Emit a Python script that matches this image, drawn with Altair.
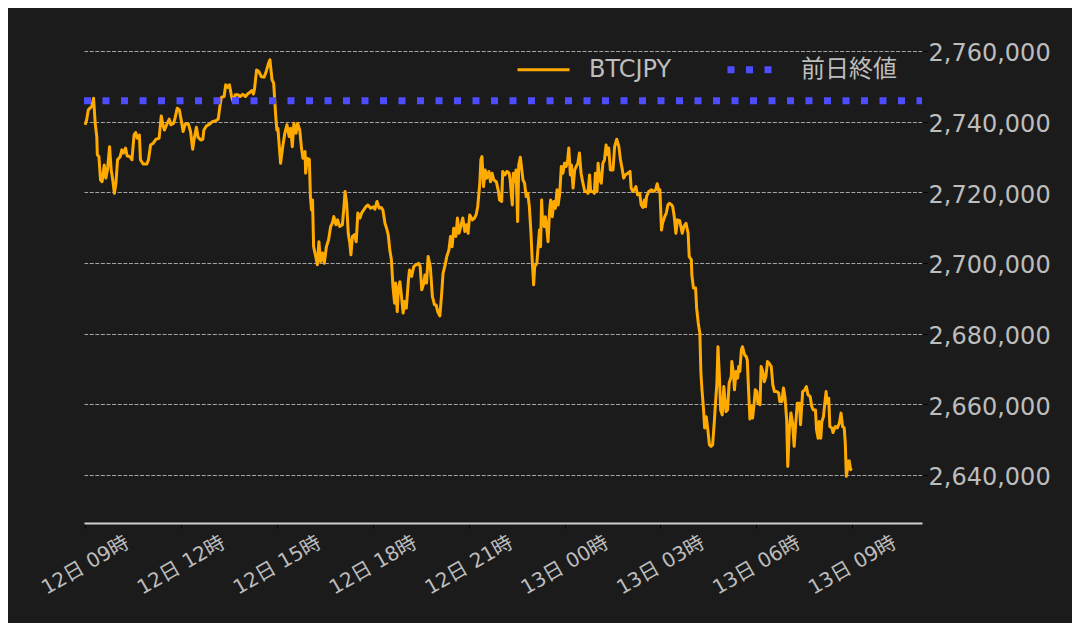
import altair as alt
import pandas as pd

# ---- values (minutes after 12日 09:00, price in JPY) ----
seg_morning = [(0,2739100),(3,2740500),(6,2743300),(13,2744400),(16,2746600),(19,2739500),(22,2735800),(23,2730600),(26,2730100),(29,2723500),(32,2723000),(36,2727700),(39,2724000),(42,2726300),(46,2732900),(49,2726300),(52,2723500),(55,2719700),(58,2722600),(61,2729200),(66,2730100),(69,2732000),(72,2731100),(76,2732500),(79,2730300),(84,2730100),(88,2729200),(92,2736200),(95,2736900),(98,2735300),(102,2736200),(104,2729200),(109,2728000),(116,2728000),(119,2729200),(123,2733400),(128,2733900),(133,2735000),(139,2735300),(143,2741600),(146,2739100),(149,2737600),(153,2739100),(158,2740700),(161,2739100),(166,2739500),(169,2741000),(173,2743800),(177,2743300),(181,2740000),(184,2737200),(188,2739300),(194,2739300),(198,2737200),(202,2732200),(205,2735300),(209,2738400),(212,2735600),(217,2734800),(221,2735000),(223,2737600),(228,2738800),(234,2739300),(239,2740000),(246,2740300),(250,2740700),(253,2744200),(256,2746900),(261,2747100),(264,2750400),(268,2749700),(271,2750400),(275,2747100),(278,2745700),(282,2747600),(287,2747600),(291,2747100),(296,2747700),(301,2747100),(305,2747800),(309,2748200),(313,2748800),(316,2747800),(318,2749200),(322,2754600),(326,2754200),(331,2752700),(336,2752600),(339,2753700),(344,2756300),(347,2757500),(349,2754600),(351,2751800),(354,2750900),(358,2741400),(360,2737600),(362,2738100),(367,2728200)]

seg_afternoon = [(371,2732900),(375,2736700),(379,2739100),(383,2735800),(386,2738100),(389,2732900),(392,2739500),(396,2736700),(399,2739500),(403,2737600),(406,2732900),(409,2729600),(413,2731500),(414,2725400),(417,2729600),(421,2729300),(423,2718800),(425,2715000),(427,2717800),(429,2704600),(433,2701800),(436,2699500),(439,2706000),(442,2700400),(446,2702800),(449,2699900),(453,2704600),(457,2706500),(461,2710300),(464,2711200),(467,2713100),(471,2710800),(474,2712200),(478,2710300),(483,2710800),(486,2715900),(488,2720200),(491,2716900),(494,2708400),(497,2705600),(499,2702300),(502,2707500),(506,2708000),(509,2706000),(512,2714100),(516,2712700),(519,2714100),(523,2715000),(527,2715900),(531,2716400),(536,2715500),(541,2715900),(544,2715200),(548,2717400),(552,2715500),(556,2715700),(559,2715000),(563,2711200),(566,2709800),(569,2708000),(572,2703700),(575,2700900),(578,2693300),(581,2688600),(583,2694300),(586,2686200),(588,2692400),(591,2694700),(594,2690500),(597,2685800),(600,2689100),(603,2687200),(607,2695200),(609,2698000),(613,2696200),(617,2699000),(622,2699500),(626,2699900),(629,2699000),(632,2692400),(636,2694300),(638,2696600),(641,2694300),(644,2701800),(648,2699000),(652,2690500),(656,2688100),(659,2688100),(662,2686200),(666,2685000),(669,2690500),(672,2697100),(676,2699500),(679,2701800),(683,2703700),(686,2707500),(689,2704600),(692,2709800),(696,2707500),(699,2712700),(702,2708400),(706,2710800),(709,2712700),(713,2708900),(716,2710800),(719,2708400),(722,2713600)]

seg_night = [(727,2712200),(731,2712700),(734,2713600),(737,2715900),(741,2722600),(743,2729200),(745,2730100),(748,2721600),(751,2726300),(754,2724000),(758,2725900),(761,2723000),(764,2725400),(767,2723500),(772,2723000),(776,2720200),(778,2717800),(782,2717400),(784,2725900),(788,2724900),(792,2725900),(796,2725400),(798,2723500),(800,2719700),(802,2716400),(804,2725400),(807,2723000),(809,2726300),(812,2711700),(814,2727700),(817,2729900),(819,2727300),(822,2723500),(825,2722600),(828,2718800),(831,2719700),(834,2715900),(837,2708400),(839,2701800),(842,2693800),(844,2699000),(848,2699900),(851,2705600),(853,2709300),(855,2704600),(857,2717800),(859,2711200),(862,2710300),(864,2713100),(867,2709300),(869,2706000),(872,2715000),(874,2717800),(877,2713100),(880,2717400),(883,2715500),(886,2720700),(888,2716400),(891,2719700),(894,2727300),(897,2725400),(900,2728200),(903,2727300),(906,2729200),(908,2732500),(911,2724900),(913,2727700),(916,2721200),(919,2726300),(922,2727300),(925,2728200),(928,2731100),(931,2725400),(934,2723000),(938,2720200),(941,2720200),(944,2719700),(947,2724900),(949,2720200),(953,2720200),(956,2719700),(958,2725400),(961,2720200),(963,2728200),(966,2723500),(969,2722600),(972,2728200),(975,2729200),(978,2733400),(981,2730600),(983,2732500),(986,2726300),(991,2726300),(994,2732900),(998,2735000),(1002,2732900),(1005,2729200),(1008,2726800),(1011,2724000),(1014,2724900),(1019,2725400),(1023,2725900),(1025,2721200),(1028,2720200),(1031,2720700),(1034,2721600),(1037,2719300),(1041,2719700),(1044,2716400),(1047,2715700),(1050,2717800),(1052,2715900),(1054,2718800),(1058,2720200),(1063,2720700),(1067,2720200),(1071,2720700),(1074,2722400),(1077,2720200),(1079,2720700),(1082,2709300),(1084,2711200),(1088,2713100),(1091,2714100),(1094,2716400),(1097,2716900),(1101,2716400),(1103,2716000),(1106,2713100),(1109,2708400),(1112,2712200),(1116,2712000)]

seg_early = [(1121,2708400),(1124,2710300),(1128,2711200),(1132,2708400),(1134,2701800),(1138,2700900),(1139,2696600),(1142,2692900),(1146,2692900),(1148,2687200),(1151,2683000),(1154,2680100),(1156,2668800),(1158,2664100),(1161,2658400),(1163,2653300),(1166,2656500),(1169,2652800),(1172,2648500),(1175,2648100),(1178,2648500),(1181,2654700),(1183,2659400),(1186,2666000),(1188,2676300),(1191,2666900),(1193,2658400),(1196,2657000),(1199,2665000),(1203,2657900),(1206,2658400),(1209,2666000),(1213,2667900),(1214,2672100),(1217,2668800),(1219,2664100),(1222,2669300),(1225,2667400),(1227,2670700),(1229,2669300),(1232,2675400),(1234,2676300),(1238,2674000),(1241,2673500),(1243,2672600),(1246,2662200),(1248,2655800),(1251,2659400),(1253,2656100),(1256,2660300),(1258,2664100),(1261,2663600),(1263,2660300),(1267,2659900),(1269,2670700),(1272,2669300),(1275,2666400),(1278,2667900),(1281,2672100),(1284,2671600),(1288,2670700),(1291,2665500),(1294,2663600),(1298,2663600),(1302,2663200),(1304,2660800),(1308,2660800),(1311,2664600),(1314,2661700),(1317,2655600),(1319,2642400),(1322,2652800),(1325,2657500),(1328,2654700),(1331,2648100),(1334,2654700),(1337,2660300),(1341,2660300),(1343,2654200),(1347,2663600),(1351,2664100),(1354,2665000),(1357,2662700),(1361,2662200),(1364,2659400),(1367,2658400),(1371,2658400),(1373,2652800),(1376,2650400),(1378,2655100),(1381,2650400),(1383,2655100),(1386,2656500),(1388,2659400),(1391,2663600),(1393,2660300),(1396,2661700),(1398,2653700),(1402,2653300),(1404,2652000),(1408,2653700),(1412,2653300),(1416,2654700),(1419,2657500),(1422,2653700),(1425,2653300),(1427,2649000),(1429,2639600),(1432,2642400),(1434,2644300),(1437,2641500),(1439,2641900)]

prev_close = 2745900
series_names = ["BTCJPY", "前日終値"]
series_colors = ["#ffaa00", "#4d4dff"]
y_ticks = [2640000, 2660000, 2680000, 2700000, 2720000, 2740000, 2760000]
y_domain = [2626400, 2771300]
x_start = "2024-06-12 08:58"
x_end = "2024-06-13 11:11"
open_time = "2024-06-12 09:00"
tick_hours = [(12, 9), (12, 12), (12, 15), (12, 18), (12, 21), (13, 0), (13, 3), (13, 6), (13, 9)]

# ---- table ----
base = pd.Timestamp(open_time)
pts = seg_morning + seg_afternoon + seg_night + seg_early
rows = [{"time": base + pd.Timedelta(minutes=m), "price": p, "series": series_names[0]} for m, p in pts]
rows += [{"time": pd.Timestamp(t), "price": prev_close, "series": series_names[1]} for t in (x_start, x_end)]
df = pd.DataFrame(rows)

FONT = "DejaVu Sans, Noto Sans CJK JP"
LABEL = "#bdbdbd"

x_vals = [alt.DateTime(year=2024, month=6, date=d, hours=h) for d, h in tick_hours]
x_dom = [alt.DateTime(year=2024, month=6, date=12, hours=8, minutes=58),
         alt.DateTime(year=2024, month=6, date=13, hours=11, minutes=11)]

chart = alt.Chart(df).mark_line(strokeJoin="round", clip=True).encode(
    x=alt.X("time:T",
            scale=alt.Scale(domain=x_dom, nice=False),
            axis=alt.Axis(values=x_vals, format="%d日 %H時", title=None, grid=False,
                          labelAngle=-30, labelAlign="center", labelBaseline="middle",
                          labelPadding=37, labelFontSize=20, labelColor=LABEL, labelFont=FONT,
                          labelOverlap=False, labelFlush=False,
                          tickColor="#000000", tickSize=5, tickWidth=1,
                          domainColor="#d0d0d0", domainWidth=2)),
    y=alt.Y("price:Q",
            scale=alt.Scale(domain=y_domain, nice=False, zero=False),
            axis=alt.Axis(orient="right", values=y_ticks, format=",d", title=None,
                          labelFontSize=24, labelColor=LABEL, labelFont=FONT, labelPadding=1,
                          labelOffset=3,
                          tickColor="#000000", tickSize=5, tickWidth=1, domain=False,
                          grid=True, gridColor="#c8c8c8", gridDash=[4, 1.6], gridWidth=0.8)),
    color=alt.Color("series:N",
                    scale=alt.Scale(domain=series_names, range=series_colors),
                    legend=alt.Legend(title=None, orient="none", legendX=432, legendY=29,
                                      direction="horizontal", symbolType="stroke",
                                      symbolSize=2704, labelFontSize=24, labelColor=LABEL,
                                      labelFont=FONT, labelOffset=18, columnPadding=41,
                                      padding=0)),
    strokeDash=alt.StrokeDash("series:N",
                              scale=alt.Scale(domain=series_names, range=[[1, 0], [7, 11.5]])),
    strokeWidth=alt.StrokeWidth("series:N",
                                scale=alt.Scale(domain=series_names, range=[3, 7])),
    order=alt.Order("time:T"),
).properties(
    width=838, height=512,
    autosize=alt.AutoSizeParams(type="none"),
    padding={"left": 76, "top": 3, "right": 150, "bottom": 100},
    background="#1b1b1b",
).configure_view(stroke=None)

chart.save("out.html", embed_options={"renderer": "svg", "actions": False})
